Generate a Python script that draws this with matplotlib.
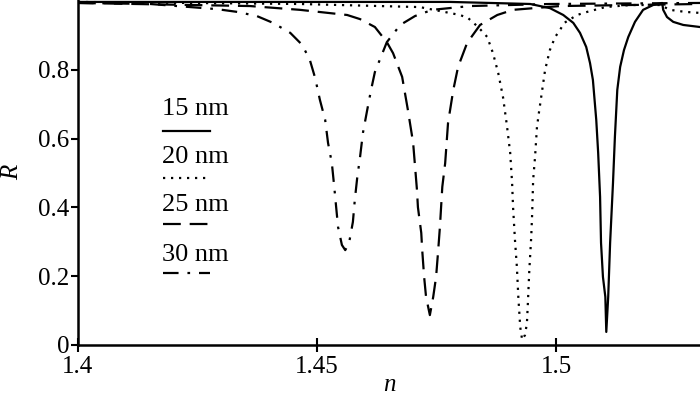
import matplotlib
matplotlib.use("Agg")
import matplotlib.pyplot as plt

plt.rcParams['font.family'] = ['Liberation Serif', 'DejaVu Serif']

# ── data (refractive index n vs reflectance R) ─────────────────────────────
n_30 = [1.4000, 1.4151, 1.4291, 1.4333, 1.4374, 1.4408, 1.4444, 1.4469,
        1.4485, 1.4496, 1.4506, 1.4517, 1.4523, 1.4531, 1.4536, 1.4540,
        1.4544, 1.4552, 1.4559, 1.4567, 1.4575, 1.4579, 1.4584, 1.4590,
        1.4596, 1.4605, 1.4613, 1.4621, 1.4646, 1.4674, 1.4705, 1.4741,
        1.4820, 1.4987, 1.5301]
R_30 = [0.995, 0.992, 0.977, 0.969, 0.957, 0.937, 0.908, 0.873,
        0.829, 0.777, 0.713, 0.655, 0.588, 0.529, 0.460, 0.401,
        0.343, 0.291, 0.276, 0.297, 0.358, 0.422, 0.486, 0.547,
        0.617, 0.684, 0.742, 0.794, 0.881, 0.931, 0.957, 0.975,
        0.986, 0.992, 0.995]

n_25 = [1.4000, 1.4360, 1.4464, 1.4563, 1.4590, 1.4621, 1.4646, 1.4659,
        1.4678, 1.4690, 1.4701, 1.4709, 1.4711, 1.4718, 1.4720, 1.4724,
        1.4728, 1.4736, 1.4743, 1.4749, 1.4753, 1.4757, 1.4762, 1.4768,
        1.4774, 1.4785, 1.4795, 1.4814, 1.4841, 1.4877, 1.4910, 1.5008,
        1.5301]
R_25 = [0.995, 0.986, 0.975, 0.960, 0.948, 0.925, 0.881, 0.849,
        0.780, 0.684, 0.588, 0.451, 0.401, 0.326, 0.276, 0.198,
        0.140, 0.087, 0.140, 0.198, 0.268, 0.343, 0.460, 0.529,
        0.646, 0.742, 0.809, 0.879, 0.931, 0.960, 0.975, 0.986,
        0.992]

n_20 = [1.4000, 1.4464, 1.4715, 1.4799, 1.4816, 1.4837, 1.4856, 1.4868,
        1.4879, 1.4889, 1.4897, 1.4904, 1.4908, 1.4910, 1.4914, 1.4918,
        1.4921, 1.4925, 1.4929, 1.4935, 1.4939, 1.4941, 1.4944, 1.4948,
        1.4950, 1.4952, 1.4956, 1.4960, 1.4964, 1.4971, 1.4977, 1.4987,
        1.4998, 1.5008, 1.5017, 1.5044, 1.5065, 1.5103, 1.5155, 1.5218,
        1.5238, 1.5270, 1.5301]
R_20 = [0.998, 0.992, 0.983, 0.960, 0.951, 0.925, 0.896, 0.849,
        0.791, 0.721, 0.640, 0.559, 0.471, 0.401, 0.305, 0.227,
        0.140, 0.052, 0.015, 0.029, 0.064, 0.122, 0.218, 0.314,
        0.384, 0.480, 0.547, 0.634, 0.675, 0.742, 0.800, 0.858,
        0.896, 0.916, 0.937, 0.960, 0.969, 0.983, 0.989, 0.989,
        0.975, 0.969, 0.966]

n_15 = [1.4000, 1.4778, 1.4946, 1.4987, 1.5015, 1.5036, 1.5050, 1.5063,
        1.5071, 1.5077, 1.5084, 1.5088, 1.5092, 1.5094, 1.5098, 1.5103,
        1.5105, 1.5109, 1.5113, 1.5119, 1.5123, 1.5128, 1.5134, 1.5142,
        1.5151, 1.5165, 1.5182, 1.5203, 1.5222, 1.5224, 1.5232, 1.5245,
        1.5266, 1.5301]
R_15 = [0.998, 0.998, 0.992, 0.980, 0.960, 0.937, 0.908, 0.867,
        0.820, 0.771, 0.655, 0.559, 0.431, 0.297, 0.198, 0.140,
        0.038, 0.140, 0.297, 0.471, 0.605, 0.742, 0.809, 0.858,
        0.896, 0.940, 0.975, 0.989, 0.995, 0.975, 0.954, 0.940,
        0.931, 0.925]

labels = ['15 nm', '20 nm', '25 nm', '30 nm']
x_ticks = [1.4, 1.45, 1.5]
x_ticklabels = ['1.4', '1.45', '1.5']
y_ticks = [0, 0.2, 0.4, 0.6, 0.8]
y_ticklabels = ['0', '0.2', '0.4', '0.6', '0.8']

styles = ['-', (0, (1.0, 2.6)), (0, (8, 4)), (0, (7, 4, 1.2, 4))]
lw = 1.6
fs_tick = 18
fs_leg = 19

fig = plt.figure(figsize=(7.0, 3.95), dpi=100)
ax = fig.add_axes([0.1114, 0.1266, 0.8886, 0.8734])

for xs, ys, ls in zip([n_15, n_20, n_25, n_30], [R_15, R_20, R_25, R_30], styles):
    ax.plot(xs, ys, color='black', linestyle=ls, linewidth=lw)

ax.set_xlim(1.4, 1.5301)
ax.set_ylim(0, 1.0036)
ax.set_xticks(x_ticks)
ax.set_xticklabels(x_ticklabels)
ax.set_yticks(y_ticks)
ax.set_yticklabels(y_ticklabels)

ax.spines['top'].set_visible(False)
ax.spines['right'].set_visible(False)
ax.spines['left'].set_linewidth(1.8)
ax.spines['bottom'].set_linewidth(1.8)
ax.tick_params(axis='y', direction='out', length=5, width=1.5, labelsize=fs_tick, pad=1)
ax.tick_params(axis='x', direction='inout', length=10, width=1.5, labelsize=fs_tick, pad=3)

ax.set_xlabel('n', fontsize=fs_tick, fontstyle='italic')
ax.xaxis.set_label_coords(0.5, -0.085)
ax.set_ylabel('R', fontsize=fs_tick, fontstyle='italic')
ax.yaxis.set_label_coords(-0.088, 0.5)

# ── hand-drawn style legend: label with its line sample underneath ──────────
text_y = [0.685, 0.545, 0.405, 0.26]
line_y = [0.62, 0.485, 0.35, 0.21]
x0, x1 = 0.137, 0.213
for lab, ty, ly, ls in zip(labels, text_y, line_y, styles):
    ax.text(0.135, ty, lab, transform=ax.transAxes, fontsize=fs_leg,
            va='center', ha='left')
    ax.plot([x0, x1], [ly, ly], transform=ax.transAxes, color='black',
            linestyle=ls, linewidth=lw)

fig.savefig('out.png', dpi=100)
